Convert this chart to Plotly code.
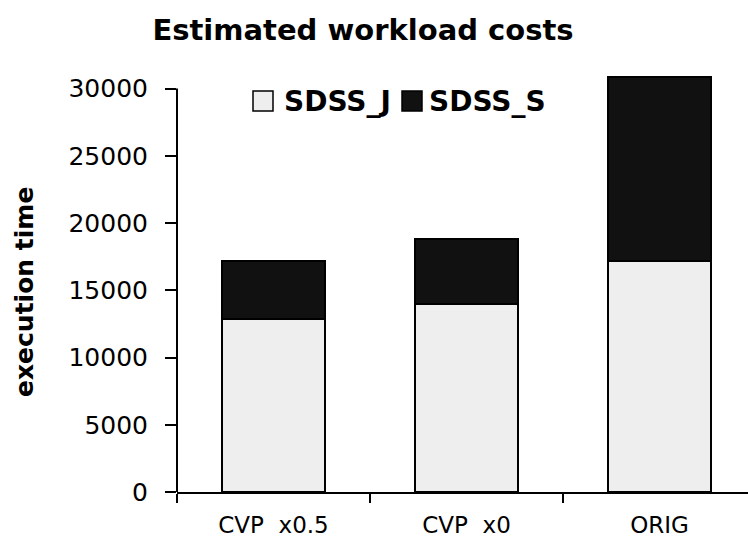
import plotly.graph_objects as go

# Workload cost data
categories = ["CVP\u00a0\u00a0x0.5", "CVP\u00a0\u00a0x0", "ORIG"]
sdss_j = [12900, 13950, 17150]
sdss_s = [4280, 4890, 13680]
series_names = ["SDSS_J", "SDSS_S"]
series_colors = ["#eeeeee", "#111111"]
y_ticks = [0, 5000, 10000, 15000, 20000, 25000, 30000]

W, H = 748, 540
M_L, M_R, M_T, M_B = 177, 0, 70, 48
plot_w = W - M_L - M_R
plot_h = H - M_T - M_B
y_top = 31383


def px_x(px):
    return (px - M_L) / plot_w


def px_y(py):
    return (H - M_B - py) / plot_h


fig = go.Figure()
for name, vals, col in zip(series_names, [sdss_j, sdss_s], series_colors):
    fig.add_trace(go.Bar(
        x=categories, y=vals, name=name,
        marker=dict(color=col, line=dict(color="#000000", width=2)),
        showlegend=False,
    ))

fig.update_layout(
    width=W, height=H,
    margin=dict(l=M_L, r=M_R, t=M_T, b=M_B),
    barmode="stack",
    bargap=0.466,
    paper_bgcolor="white",
    plot_bgcolor="white",
    title=dict(
        text="<b>Estimated workload costs</b>",
        x=363 / W, xanchor="center",
        y=1 - 30 / H, yanchor="middle",
        font=dict(family="DejaVu Sans", size=29, color="#000000"),
    ),
    xaxis=dict(
        type="category",
        range=[-0.5, 2.4585],
        automargin=False,
        showline=True, linecolor="#000000", linewidth=2,
        ticks="outside", tickson="boundaries", ticklen=9,
        tickwidth=2, tickcolor="#000000",
        ticklabelstandoff=11,
        tickfont=dict(family="DejaVu Sans", size=23, color="#000000"),
        showgrid=False, zeroline=False,
    ),
    yaxis=dict(
        range=[0, y_top],
        automargin=False,
        tickvals=y_ticks,
        ticktext=[str(v) for v in y_ticks],
        showline=False,
        ticks="outside", ticklen=11, tickwidth=2, tickcolor="#000000",
        ticklabelstandoff=12,
        tickfont=dict(family="DejaVu Sans", size=25, color="#000000"),
        showgrid=False, zeroline=False,
    ),
)

# Value axis line, drawn up to the top tick
fig.add_shape(type="line", xref="paper", yref="y",
              x0=0, x1=0, y0=0, y1=y_ticks[-1],
              line=dict(color="#000000", width=2))

# Axis title
fig.add_annotation(
    text="<b>execution time</b>", textangle=-90,
    xref="paper", yref="paper",
    x=px_x(24), y=px_y(292), xanchor="center", yanchor="middle",
    showarrow=False,
    font=dict(family="DejaVu Sans", size=25, color="#000000"),
)

# Legend: swatch + label for each series
legend_items = [(253, 282), (402, 427)]
for (sx, tx), name, col in zip(legend_items, series_names, series_colors):
    fig.add_shape(type="rect", xref="paper", yref="paper",
                  x0=px_x(sx), x1=px_x(sx + 20), y0=px_y(111), y1=px_y(91),
                  fillcolor=col, line=dict(color="#000000", width=1.5))
    fig.add_annotation(
        text="<b>" + name + "</b>",
        xref="paper", yref="paper",
        x=px_x(tx), y=px_y(101), xanchor="left", yanchor="middle",
        showarrow=False,
        font=dict(family="DejaVu Sans", size=28, color="#000000"),
    )

fig.write_html("out.html")
